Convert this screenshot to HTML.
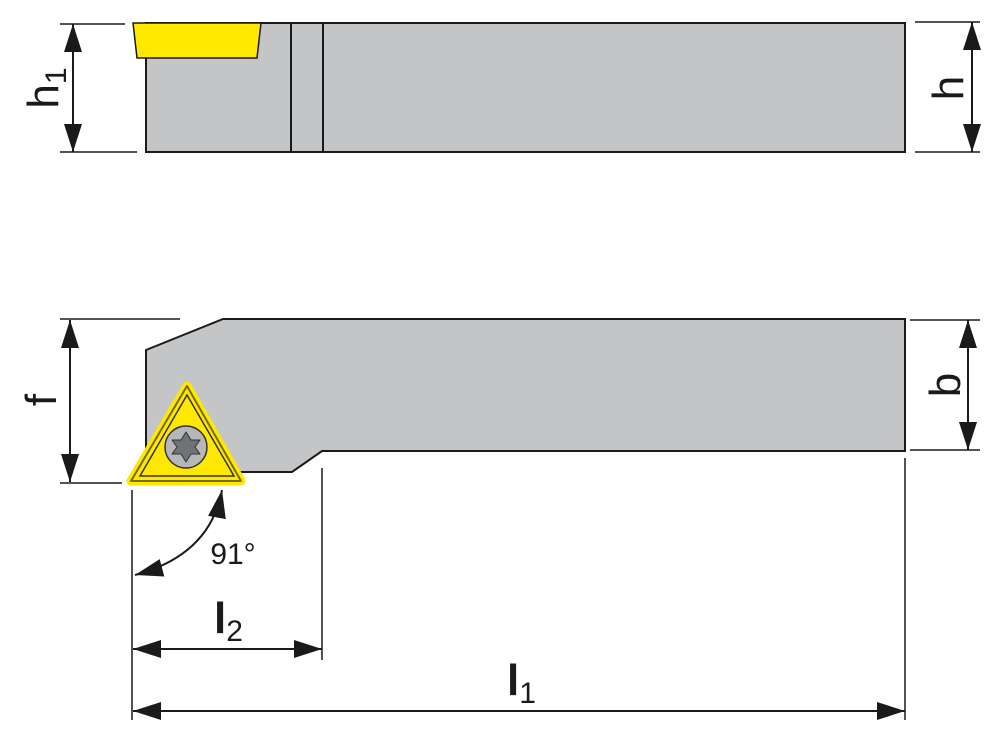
<!DOCTYPE html>
<html><head><style>body{margin:0;background:#fff}svg{display:block}</style></head><body>
<svg width="1000" height="742" viewBox="0 0 1000 742" xmlns="http://www.w3.org/2000/svg" font-family="Liberation Sans, sans-serif">
<defs>
<marker id="a" viewBox="0 0 28 18" refX="28" refY="9" markerWidth="28" markerHeight="18" markerUnits="userSpaceOnUse" orient="auto-start-reverse"><path d="M0,0 L28,9 L0,18 Z" fill="#1a1a1a"/></marker>
</defs>
<g stroke="#1a1a1a" stroke-width="2" fill="none">
<rect x="146" y="23" width="759" height="129" fill="#c3c5c7"/>
<line x1="291" y1="23" x2="291" y2="152"/>
<line x1="323" y1="23" x2="323" y2="152"/>
<polygon points="133,23 261,23 257,58 137,58" fill="#ffe800" stroke-width="1.5"/>
<line x1="60" y1="24" x2="125" y2="24" stroke-width="1.5"/>
<line x1="60" y1="152" x2="137" y2="152" stroke-width="1.5"/>
<line x1="73" y1="24" x2="73" y2="152" marker-start="url(#a)" marker-end="url(#a)"/>
<line x1="915" y1="22" x2="980" y2="22" stroke-width="1.5"/>
<line x1="915" y1="152" x2="980" y2="152" stroke-width="1.5"/>
<line x1="972" y1="22" x2="972" y2="152" marker-start="url(#a)" marker-end="url(#a)"/>
<polygon points="146,350 223,319 905,319 905,451 322,451 292,472 146,472" fill="#c3c5c7"/>
<polygon points="187,386 131,481 241,481" fill="#ffe800" stroke-width="9" stroke-linejoin="round" stroke="#ffe800"/>
<polygon points="187,386 131,481 241,481" fill="none" stroke="#7a6a00" stroke-width="2" stroke-linejoin="round" transform="translate(0,0)"/>
<polygon points="187,395 140,476 234,476" fill="none" stroke="#333" stroke-width="1.5"/>
<circle cx="186" cy="447" r="21" fill="#b5b7b9" stroke="#333" stroke-width="1.5"/>
<path d="M186,432 L191,440 L200,440 L195,447 L200,454 L191,454 L186,462 L181,454 L172,454 L177,447 L172,440 L181,440 Z" fill="#707274" stroke="#333" stroke-width="1" stroke-linejoin="round"/>
<line x1="60" y1="319" x2="180" y2="319" stroke-width="1.5"/>
<line x1="60" y1="483" x2="122" y2="483" stroke-width="1.5"/>
<line x1="70" y1="320" x2="70" y2="482" marker-start="url(#a)" marker-end="url(#a)"/>
<line x1="910" y1="320" x2="980" y2="320" stroke-width="1.5"/>
<line x1="910" y1="450" x2="980" y2="450" stroke-width="1.5"/>
<line x1="968" y1="320" x2="968" y2="450" marker-start="url(#a)" marker-end="url(#a)"/>
<line x1="132" y1="490" x2="132" y2="720" stroke-width="1.5"/>
<line x1="322" y1="468" x2="322" y2="660" stroke-width="1.5"/>
<line x1="905" y1="458" x2="905" y2="720" stroke-width="1.5"/>
<line x1="133" y1="649" x2="322" y2="649" marker-start="url(#a)" marker-end="url(#a)"/>
<line x1="133" y1="711" x2="905" y2="711" marker-start="url(#a)" marker-end="url(#a)"/>
<path d="M222,490 Q210,555 135,575" marker-start="url(#a)" marker-end="url(#a)"/>
</g>
<g fill="#1a1a1a">
<text transform="translate(58,88) rotate(-90)" font-size="44" text-anchor="middle">h<tspan font-size="30" dy="8">1</tspan></text>
<text transform="translate(963,88) rotate(-90)" font-size="44" text-anchor="middle">h</text>
<text transform="translate(56,400) rotate(-90)" font-size="44" text-anchor="middle">f</text>
<text transform="translate(960,385) rotate(-90)" font-size="44" text-anchor="middle">b</text>
<text x="233" y="564" font-size="30" text-anchor="middle">91°</text>
<text x="214" y="633" font-size="44" font-weight="bold">l<tspan font-size="30" font-weight="normal" dy="8">2</tspan></text>
<text x="507" y="695" font-size="44" font-weight="bold">l<tspan font-size="30" font-weight="normal" dy="8">1</tspan></text>
</g>
</svg>
</body></html>
